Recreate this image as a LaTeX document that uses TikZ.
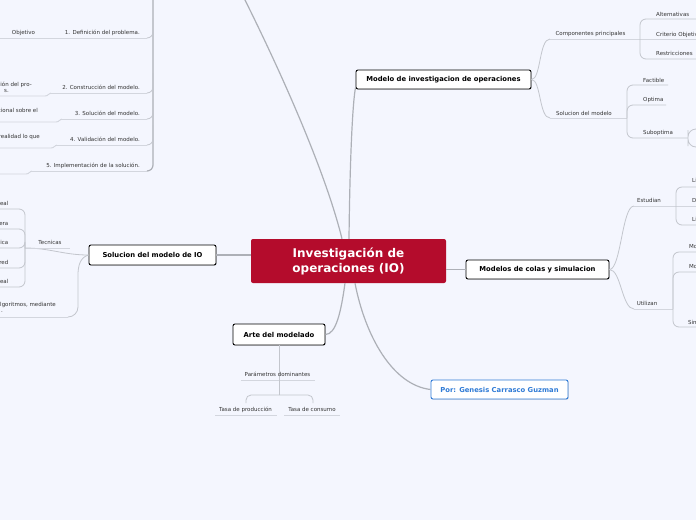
\documentclass[tikz,border=0pt]{standalone}
\usepackage{fontspec}
\setmainfont{DejaVu Sans}
\usetikzlibrary{shadows}
\definecolor{bgmap}{HTML}{F4F6FE}
\definecolor{iored}{HTML}{B40C2C}
\definecolor{trunkgrey}{HTML}{ADB0B7}
\definecolor{linkgrey}{HTML}{C3C6CD}
\definecolor{ulgrey}{HTML}{D3D6DE}
\definecolor{porblue}{HTML}{2F7BD6}
\definecolor{txtgrey}{HTML}{333333}
\tikzset{
  centre/.style={fill=iored, text=white, rounded corners=2pt, align=center,
    font=\fontsize{12}{15}\selectfont\bfseries, minimum width=195pt, minimum height=44pt},
  topic/.style={draw=black, fill=white, rounded corners=2pt, line width=0.9pt, inner sep=0pt,
    font=\fontsize{6.8}{8}\selectfont\bfseries, minimum height=19pt,
    drop shadow={opacity=0.3, shadow xshift=0.7pt, shadow yshift=-0.7pt}},
  author/.style={topic, draw=porblue, text=porblue},
  sub/.style={font=\fontsize{5.5}{6.6}\selectfont, text=txtgrey, inner sep=0pt, anchor=base},
  trunk/.style={draw=trunkgrey, line width=1.2pt},
  link/.style={draw=linkgrey, line width=0.8pt},
  uline/.style={draw=ulgrey, line width=0.9pt},
}

\begin{document}
\begin{tikzpicture}[x=1pt, y=-1pt] % {{{
\useasboundingbox (0,0) rectangle (696,520);
\fill[bgmap] (0,0) rectangle (696,520);
\clip (0,0) rectangle (696,520);
\pgfmathsetmacro{\colx}{153}

% main topics
\node[centre] (io) at (348.5,261) {Investigación de\\operaciones (IO)};
\node[topic, minimum width=175pt] (modelo) at (443.5,79.5) {Modelo de investigacion de operaciones};
\node[topic, minimum width=127pt, minimum height=20pt] (solio) at (152.5,255) {Solucion del modelo de IO};
\node[topic, minimum width=143pt] (colas) at (537.5,269.5) {Modelos de colas y simulacion};
\node[topic, minimum width=92pt, minimum height=21pt] (arte) at (279,334.5) {Arte del modelado};
\node[author, minimum width=137pt] (por) at (499.5,389.5) {Por: Genesis Carrasco Guzman};
\coordinate (offtop) at (243,-4);

\draw[trunk] ([xshift=-6.5pt]io.north) .. controls (325,170) and (280,70) .. (offtop);
\draw[trunk] ([xshift=0.5pt]io.north) .. controls (350,150) and (353,100) .. ([yshift=2pt]modelo.south west);
\draw[trunk] ([yshift=6pt]io.west) -- (solio.east);
\draw[trunk] ([yshift=-8.5pt]io.east) -- (colas.west);
\draw[trunk] ([xshift=-3.5pt]io.south) .. controls (341,312) and (336,334.5) .. (arte.east);
\draw[trunk] ([xshift=6.5pt]io.south) .. controls (365,335) and (392,385) .. (por.west);

% column on the left (parent above the page)
\begin{scope} % {{{
\draw[trunk, rounded corners=6pt] (\colx,-5) |- (147,171);
\foreach \yy/\xl in {38/-2, 93/50, 119/60, 145/55}
  \draw[link, rounded corners=6pt] (\colx,\yy-20) |- (147,\yy);
\draw[uline] (-2,38) -- (147,38);
\foreach \yy/\xl in {93/50, 119/60, 145/55, 171/30}
  \draw[uline] (\xl,\yy) -- (147,\yy);
\foreach \yy/\xl in {96/45, 122/56, 148/51, 174/26}
  \draw[uline] (-2,\yy) -- (\xl,\yy) .. controls (\xl+4,\yy) and (\xl+3,\yy-3) .. (\xl+6,\yy-3);
\node[sub, anchor=base east] (def) at (140,34) {1. Definición del problema.};
\node[sub, anchor=base east] (cons) at (140,89) {2. Construcción del modelo.};
\node[sub, anchor=base east] (solu) at (140,115) {3. Solución del modelo.};
\node[sub, anchor=base east] (vali) at (140,141) {4. Validación del modelo.};
\node[sub, anchor=base east] (impl) at (140,167) {5. Implementación de la solución.};
\node[sub] (obj) at (23.5,34) {Objetivo};
\node[sub, anchor=base east] (cons-a) at (32,86) {ión del pro-};
\node[sub, anchor=base east] (cons-b) at (9,92) {s.};
\node[sub, anchor=base east] (solu-a) at (38,112) {cional sobre el};
\node[sub, anchor=base east] (vali-a) at (40,138) {realidad lo que};
\end{scope} % }}}

% Solucion del modelo de IO
\begin{scope} % {{{
\coordinate (tec-j) at (25,248);
\coordinate (alg-j) at (68,317);
\draw[link] (solio.west) to[out=180,in=0] (tec-j);
\draw[link] (solio.west) to[out=195,in=90] (78,275) -- (78,307) to[out=-90,in=0] (alg-j);
\draw[uline] (tec-j) -- (70,248);
\draw[uline] (-2,317) -- (alg-j);
\foreach \yy in {209,229,248,268,287}
  \draw[link, rounded corners=6pt] (tec-j) |- (-2,\yy);
\node[sub] (tec) at (50,244) {Tecnicas};
\node[sub, anchor=base east] (alg-a) at (56,306) {lgoritmos, mediante};
\node[sub, anchor=base east] (alg-b) at (3,312) {.};
\foreach \yy/\txt [count=\i] in {205/eal, 225/era, 244/ica, 264/red, 283/eal}
  \node[sub, anchor=base east] (tec\i) at (8.5,\yy) {\txt};
\end{scope} % }}}

% Modelo de investigacion de operaciones
\begin{scope} % {{{
\coordinate (cp-j) at (550,39);
\coordinate (sm-j) at (550,118);
\draw[link] (modelo.east) .. controls (541,79.5) and (539,39) .. (cp-j);
\draw[link] (modelo.east) .. controls (541,79.5) and (539,118) .. (sm-j);
\draw[uline] (cp-j) -- (697,39);
\draw[uline] (sm-j) -- (627,118);
\draw[link, rounded corners=6pt] (640,39) |- (697,19);
\draw[link, rounded corners=6pt] (640,39) |- (697,59);
\draw[link, rounded corners=6pt] (627,118) |- (668,85);
\draw[link, rounded corners=6pt] (627,118) |- (666,105);
\draw[link, rounded corners=6pt] (627,118) |- (688,138);
\draw[link, rounded corners=8pt] (697,129) -| (688,138) |- (697,147);
\node[sub] (cprin) at (590.5,35) {Componentes principales};
\node[sub] (solmod) at (584,115) {Solucion del modelo};
\node[sub, anchor=base west] (alt) at (656,16) {Alternativas};
\node[sub, anchor=base west] (crit) at (656,36) {Criterio Objetivo};
\node[sub, anchor=base west] (restr) at (656,55) {Restricciones};
\node[sub, anchor=base west] (fact) at (643,82) {Factible};
\node[sub, anchor=base west] (opt) at (643,101) {Optima};
\node[sub, anchor=base west] (subopt) at (643,134) {Suboptima};
\end{scope} % }}}

% Modelos de colas y simulacion
\begin{scope} % {{{
\coordinate (est-j) at (634,206);
\coordinate (uti-j) at (634,309);
\draw[link] (colas.east) .. controls (621,269.5) and (622,206) .. (est-j);
\draw[link] (colas.east) .. controls (621,269.5) and (622,309) .. (uti-j);
\draw[uline] (est-j) -- (697,206);
\draw[uline] (uti-j) -- (673,309);
\foreach \yy in {187,225}
  \draw[link, rounded corners=6pt] (676,206) |- (697,\yy);
\foreach \yy in {252,272,327}
  \draw[link, rounded corners=6pt] (673,309) |- (697,\yy);
\node[sub] (estud) at (649,202) {Estudian};
\node[sub] (utiliz) at (647,305) {Utilizan};
\node[sub, anchor=base west] (est1) at (692,182) {Li};
\node[sub, anchor=base west] (est2) at (692,202) {D};
\node[sub, anchor=base west] (est3) at (692,221) {Li};
\node[sub, anchor=base west] (uti1) at (689,248) {Mo};
\node[sub, anchor=base west] (uti2) at (689,268) {Mo};
\node[sub, anchor=base west] (uti3) at (688,324) {Sim};
\end{scope} % }}}

% Arte del modelado
\begin{scope} % {{{
\coordinate (par-j) at (279,380);
\coordinate (tasa-j) at (279,395);
\draw[link] (arte.south) -- (par-j);
\draw[uline] (241,380) -- (315,380);
\draw[link] (par-j) -- (tasa-j);
\draw[link, rounded corners=5pt] (tasa-j) -| (246,403);
\draw[link, rounded corners=5pt] (tasa-j) -| (313,403);
\draw[uline] (215,415) -- (277,415);
\draw[uline] (284,415) -- (340,415);
\node[sub] (param) at (277.5,376) {Parámetros dominantes};
\node[sub] (tprod) at (245.5,411) {Tasa de producción};
\node[sub] (tcons) at (312,411) {Tasa de consumo};
\end{scope} % }}}
\end{tikzpicture} % }}}
\end{document}
